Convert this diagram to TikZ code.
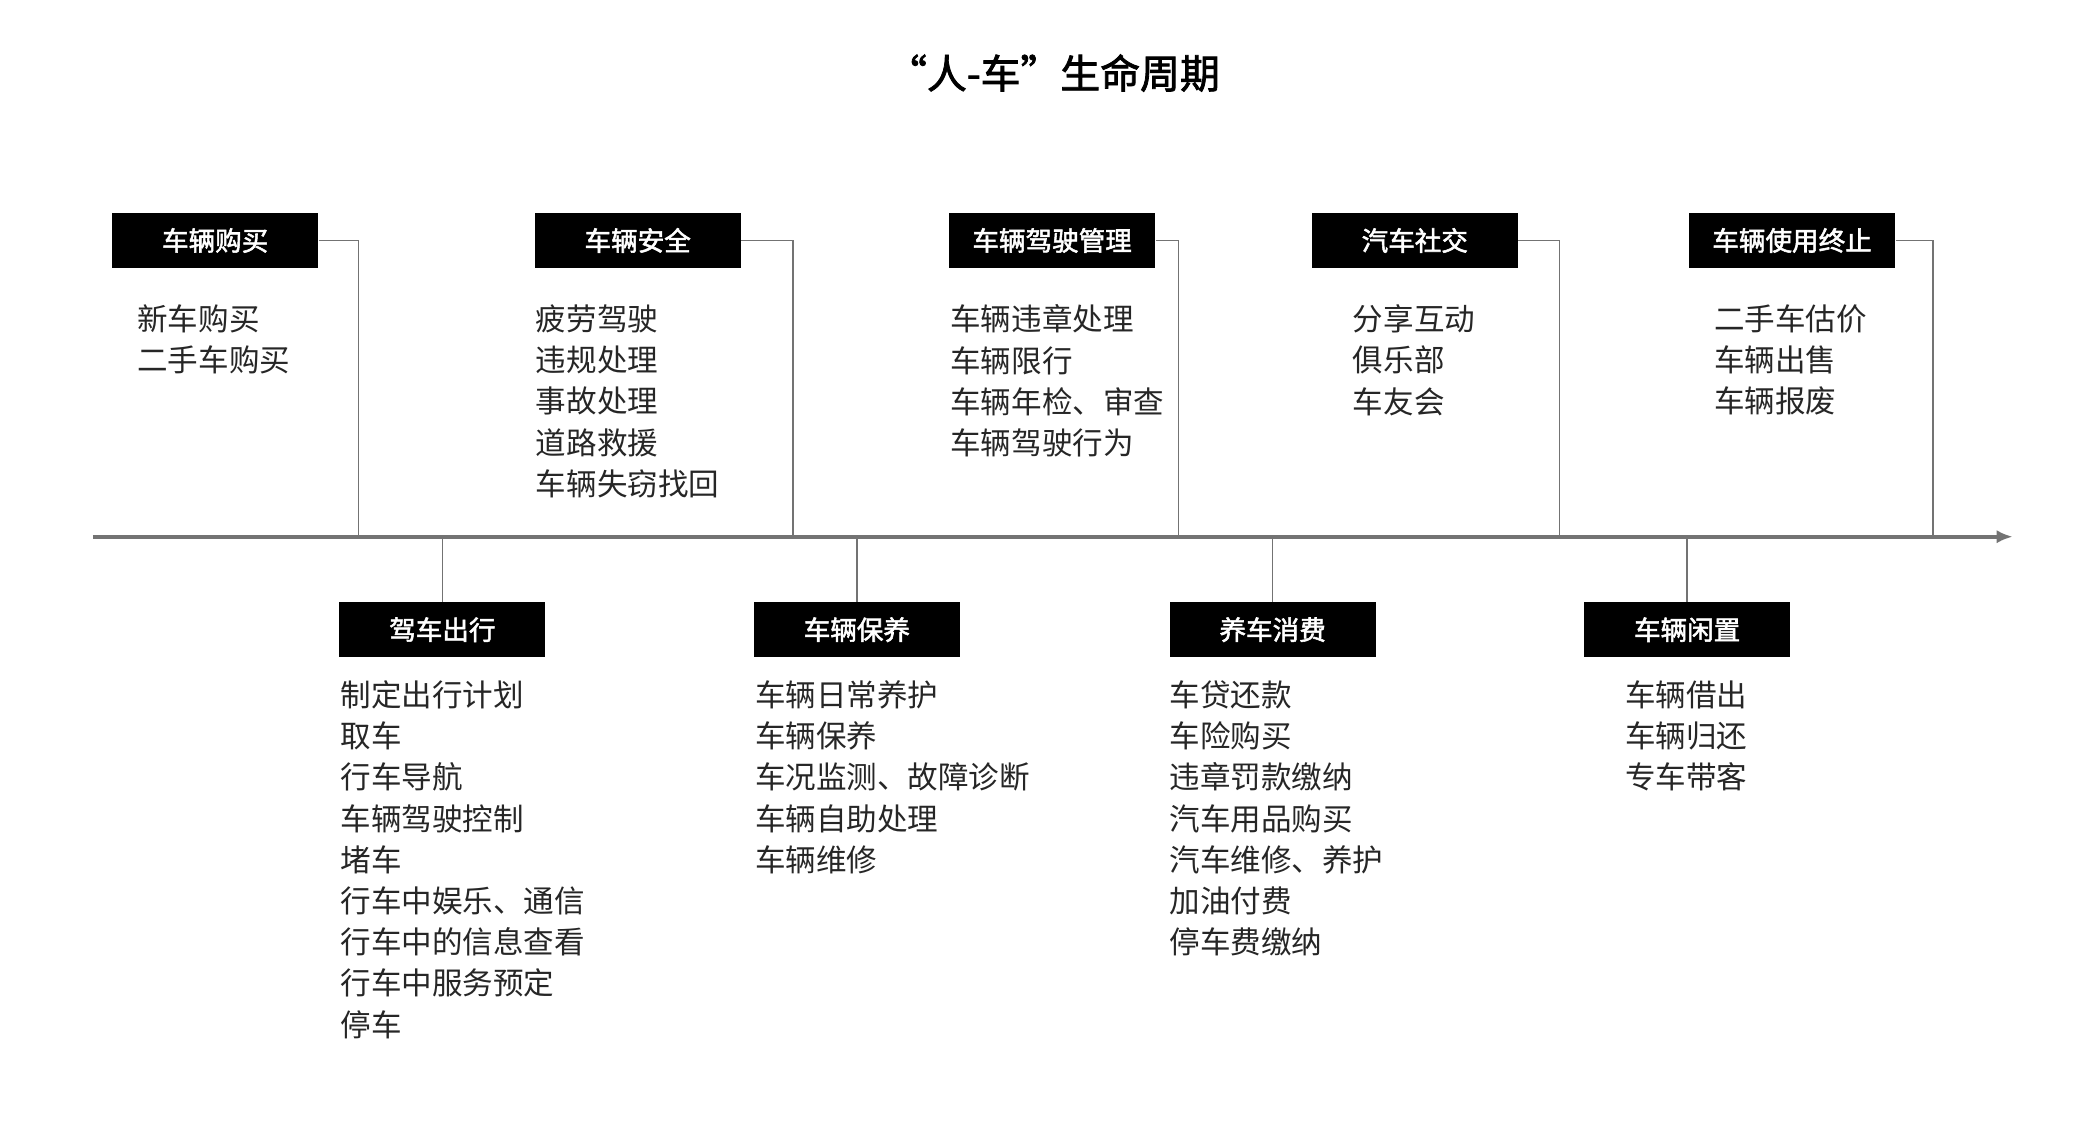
\documentclass[tikz,border=0pt]{standalone}
\usepackage{fontspec}
\setmainfont{Noto Sans CJK SC}
\newfontfamily\cjkb[FakeBold=2]{Noto Sans CJK SC}
\usetikzlibrary{arrows.meta}
\begin{document}
\begin{tikzpicture}[x=0.5pt,y=-0.5pt,
 hdr/.style={fill=black,text=white,minimum width=77.5pt,minimum height=20.5pt,inner sep=0pt,font=\cjkb\fontsize{10}{12}\selectfont},
 lst/.style={anchor=north west,align=left,inner sep=0pt,text=black!85,font=\fontsize{11.5}{15.5}\selectfont},
 conn/.style={draw=black!55,line width=0.6pt}]
\useasboundingbox (0,0) rectangle (1568,848);
\node[font=\cjkb\fontsize{15}{18}\selectfont] (title) at (793,55) {“人-车”生命周期};
\coordinate (a0) at (70,404); \coordinate (a1) at (1515,404);
\draw[draw=black!55,line width=1.5pt,-{Latex[length=6pt,width=5pt]}] (a0) -- (a1);
% top
\foreach \n/\x/\lx/\t in {t1/162/270/车辆购买,t2/480/597/车辆安全,t3/792/887/车辆驾驶管理,t4/1065/1174/汽车社交,t5/1349/1455/车辆使用终止}{
 \node[hdr] (\n) at (\x,181) {\t};
 \coordinate (\n c) at (\lx,404);
 \draw[conn] (\n.east) -| (\n c);
}
\node[lst] (l1) at (103,229) {新车购买\\二手车购买};
\node[lst] (l2) at (403,229) {疲劳驾驶\\违规处理\\事故处理\\道路救援\\车辆失窃找回};
\node[lst] (l3) at (715,229) {车辆违章处理\\车辆限行\\车辆年检、审查\\车辆驾驶行为};
\node[lst] (l4) at (1018,229) {分享互动\\俱乐部\\车友会};
\node[lst] (l5) at (1290,229) {二手车估价\\车辆出售\\车辆报废};
% bottom
\foreach \n/\x/\t in {b1/333/驾车出行,b2/645/车辆保养/维修,b3/958/养车消费,b4/1270/车辆闲置}{
 \node[hdr] (\n) at (\x,474) {\t};
 \coordinate (\n c) at (\x,404);
 \draw[conn] (\n c) -- (\n.north);
}
\node[lst] (m1) at (256,512) {制定出行计划\\取车\\行车导航\\车辆驾驶控制\\堵车\\行车中娱乐、通信\\行车中的信息查看\\行车中服务预定\\停车};
\node[lst] (m2) at (568,512) {车辆日常养护\\车辆保养\\车况监测、故障诊断\\车辆自助处理\\车辆维修};
\node[lst] (m3) at (880,512) {车贷还款\\车险购买\\违章罚款缴纳\\汽车用品购买\\汽车维修、养护\\加油付费\\停车费缴纳};
\node[lst] (m4) at (1223,512) {车辆借出\\车辆归还\\专车带客};
\end{tikzpicture}
\end{document}
